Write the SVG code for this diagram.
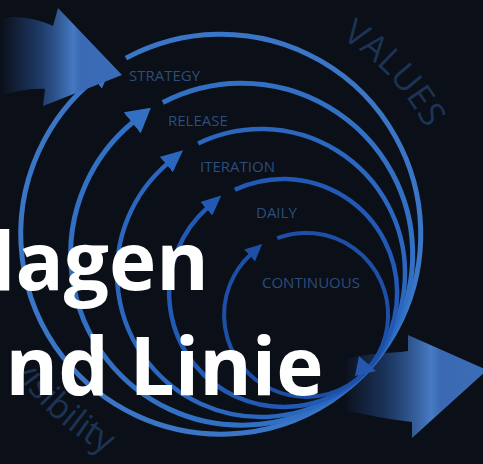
<svg xmlns="http://www.w3.org/2000/svg" width="483" height="464" viewBox="0 0 483 464">
  <defs>
    <style>
      .ring { fill: none; stroke-linecap: butt; }
      .lbl { font-family: "Open Sans", "Liberation Sans", sans-serif; font-size: 15px; fill: #2d4d7c; }
      .big { font-family: "Open Sans", "Liberation Sans", sans-serif; font-size: 80px; font-weight: 700; fill: #ffffff; }
      .val { font-family: "Open Sans", "Liberation Sans", sans-serif; font-size: 35px; fill: #1c3353; }
    </style>
    <linearGradient id="gTL" gradientUnits="userSpaceOnUse" x1="0" y1="0" x2="122" y2="0">
      <stop offset="0" stop-color="#2a5599" stop-opacity="0"/>
      <stop offset="0.3" stop-color="#2a5599" stop-opacity="0.55"/>
      <stop offset="0.6" stop-color="#4479c2"/>
      <stop offset="0.66" stop-color="#3a6ab4"/>
      <stop offset="1" stop-color="#3b6cb8"/>
    </linearGradient>
    <linearGradient id="gBR" gradientUnits="userSpaceOnUse" x1="342" y1="0" x2="483" y2="0">
      <stop offset="0" stop-color="#2a5599" stop-opacity="0"/>
      <stop offset="0.3" stop-color="#2a5599" stop-opacity="0.5"/>
      <stop offset="0.63" stop-color="#477bc4"/>
      <stop offset="0.7" stop-color="#3a69b2"/>
      <stop offset="1" stop-color="#3c6db8"/>
    </linearGradient>
    <marker id="m1" viewBox="0 0 10 10" refX="1" refY="5" markerUnits="userSpaceOnUse" markerWidth="23" markerHeight="24" orient="auto" preserveAspectRatio="none"><path d="M0,0 L10,5 L0,10 Z" fill="#3b76c6"/></marker>
    <marker id="m2" viewBox="0 0 10 10" refX="1" refY="5" markerUnits="userSpaceOnUse" markerWidth="24" markerHeight="27" orient="auto" preserveAspectRatio="none"><path d="M0,0 L10,5 L0,10 Z" fill="#3270c4"/></marker>
    <marker id="m3" viewBox="0 0 10 10" refX="1" refY="5" markerUnits="userSpaceOnUse" markerWidth="22" markerHeight="20" orient="auto" preserveAspectRatio="none"><path d="M0,0 L10,5 L0,10 Z" fill="#2b66bf"/></marker>
    <marker id="m4" viewBox="0 0 10 10" refX="1" refY="5" markerUnits="userSpaceOnUse" markerWidth="20" markerHeight="18" orient="auto" preserveAspectRatio="none"><path d="M0,0 L10,5 L0,10 Z" fill="#2259b5"/></marker>
    <marker id="m5" viewBox="0 0 10 10" refX="1" refY="5" markerUnits="userSpaceOnUse" markerWidth="17" markerHeight="16" orient="auto" preserveAspectRatio="none"><path d="M0,0 L10,5 L0,10 Z" fill="#1d4fa7"/></marker>
    <path id="pVal" d="M336,34.8 A230,230 0 0 1 443.2,174.5"/>
    <path id="pVis" d="M-26.1,212.4 A248,248 0 0 0 177.9,478.2"/>
  </defs>

  <rect x="0" y="0" width="483" height="464" fill="#0a0f18"/>

  <g id="values-labels">
    <text class="val"><textPath href="#pVal" startOffset="6">VALUES</textPath></text>
    <text class="val" text-anchor="end"><textPath href="#pVis" startOffset="292">visibility</textPath></text>
  </g>

  <g id="arrow-out">
    <path d="M345,360 C365,352 390,354 408,351 L408,335 L487,370 L412,438 L412,422 C390,420 365,414 347,411 Z" fill="url(#gBR)"/>
  </g>

  <g id="connectors">
    <path class="ring" d="M125.9,58.1 A200,200 0 1 1 96.2,77.7" stroke="#3b76c6" stroke-width="5" marker-end="url(#m1)"/>
    <path class="ring" d="M162.8,102.5 A171,171 0 1 1 134.1,121.3" stroke="#3270c4" stroke-width="5" marker-end="url(#m2)"/>
    <path class="ring" d="M198.1,143.5 A144,144 0 1 1 168.0,163.1" stroke="#2b66bf" stroke-width="4.5" marker-end="url(#m3)"/>
    <path class="ring" d="M234.8,189.7 A114,114 0 1 1 207.8,207.4" stroke="#2259b5" stroke-width="4.5" marker-end="url(#m4)"/>
    <path class="ring" d="M277.2,238.2 A82,82 0 1 1 250.9,254.3" stroke="#1d4fa7" stroke-width="4" marker-end="url(#m5)"/>
    <polygon points="355,376 359,356 376,371" fill="#2458b0"/>
  </g>

  <g id="node-strategy"><text class="lbl" x="129" y="81">STRATEGY</text></g>
  <g id="node-release"><text class="lbl" x="168" y="126">RELEASE</text></g>
  <g id="node-iteration"><text class="lbl" x="200" y="172">ITERATION</text></g>
  <g id="node-daily"><text class="lbl" x="256" y="218">DAILY</text></g>
  <g id="node-continuous"><text class="lbl" x="262" y="288">CONTINUOUS</text></g>

  <g id="arrow-in">
    <path d="M-5,20 C15,14 35,18 53,26 L58,8 L122,75 L43,106 L45,89 C30,88 10,92 -5,98 Z" fill="url(#gTL)"/>
  </g>

  <g id="title">
    <text class="big" x="-9" y="290">lagen</text>
    <text class="big" x="-47" y="395">und Linie</text>
  </g>
</svg>
